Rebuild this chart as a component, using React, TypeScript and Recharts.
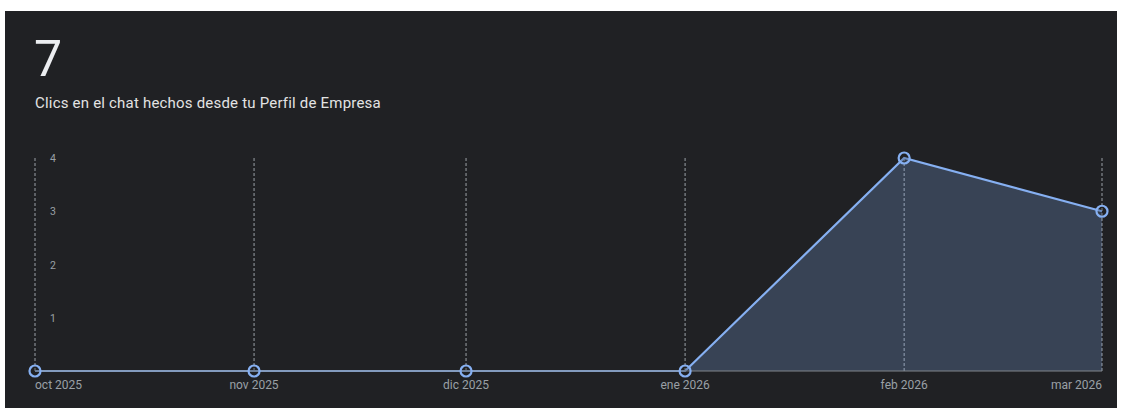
import { AreaChart, Area, XAxis, YAxis, CartesianGrid } from 'recharts'

// monthly chat clicks
const months = ['2025-10-01', '2025-11-01', '2025-12-01', '2026-01-01', '2026-02-01', '2026-03-01']
const monthLabels = ['oct 2025', 'nov 2025', 'dic 2025', 'ene 2026', 'feb 2026', 'mar 2026']
const clicks = [0, 0, 0, 0, 4, 3]
const yTicks = [1, 2, 3, 4]
const total = 7

const BG = '#202124'
const LINE = '#86b0f2'

const stamps = months.map(m => new Date(m + 'T00:00:00Z').getTime())
const data = stamps.map((t, i) => ({ t, clicks: clicks[i] }))
const labelFor = new Map(stamps.map((t, i) => [t, monthLabels[i]]))

function XTick(props: any) {
  const { x, y, payload, index } = props
  const anchor = index === 0 ? 'start' : index === stamps.length - 1 ? 'end' : 'middle'
  return (
    <text x={x} y={y + 10} textAnchor={anchor} fill="#9aa0a6" fontSize={12} fontFamily="Roboto">
      {labelFor.get(payload.value)}
    </text>
  )
}

function YTick(props: any) {
  const { y, payload } = props
  return (
    <text x={45} y={y} dy={4} textAnchor="start" fill="#9aa0a6" fontSize={10.5} fontFamily="Roboto">
      {payload.value}
    </text>
  )
}

export default function App() {
  return (
    <div style={{ position: 'absolute', left: 0, top: 0, width: 1127, height: 408, background: '#fff', overflow: 'hidden' }}>
      <div style={{ position: 'absolute', left: 5, top: 11, width: 1112, height: 420, background: BG, fontFamily: 'Roboto' }}>
        <div style={{ position: 'absolute', left: 29, top: 18, fontSize: 50, lineHeight: '60px', color: '#eceef1' }}>{total}</div>
        <div style={{ position: 'absolute', left: 30, top: 82, fontSize: 15, letterSpacing: 0.2, lineHeight: '20px', color: '#e3e3e3' }}>
          Clics en el chat hechos desde tu Perfil de Empresa
        </div>
        <div style={{ position: 'absolute', left: 0, top: 129 }}>
          <AreaChart width={1112} height={268} data={data} margin={{ top: 18, right: 15, bottom: 0, left: 30 }}>
            <CartesianGrid horizontal={false} stroke="#9aa0a6" strokeDasharray="3 2" />
            <XAxis
              dataKey="t"
              type="number"
              scale="time"
              domain={['dataMin', 'dataMax']}
              ticks={stamps}
              tick={<XTick />}
              tickLine={false}
              axisLine={{ stroke: '#80868b' }}
              height={37}
              interval={0}
            />
            <YAxis
              domain={[0, 4]}
              ticks={yTicks}
              mirror
              width={40}
              tick={<YTick />}
              tickLine={false}
              axisLine={false}
              interval={0}
            />
            <Area
              type="linear"
              dataKey="clicks"
              stroke={LINE}
              strokeWidth={2.2}
              fill={LINE}
              fillOpacity={0.24}
              dot={{ r: 5.5, fill: BG, stroke: LINE, strokeWidth: 2.2 }}
              activeDot={false}
              isAnimationActive={false}
            />
          </AreaChart>
        </div>
      </div>
    </div>
  )
}
